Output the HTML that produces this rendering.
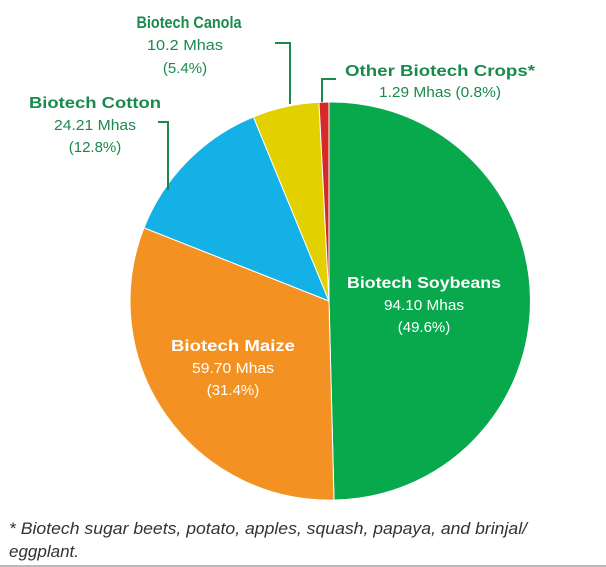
<!DOCTYPE html>
<html><head><style>
body{margin:0;background:#fff;width:606px;height:567px;overflow:hidden;font-family:"Liberation Sans",sans-serif}
</style></head><body>
<svg width="606" height="567" xmlns="http://www.w3.org/2000/svg" style="position:absolute;left:0;top:0">
<g stroke="#fff" stroke-width="1">
<path d="M329,301 L329,102 A199,199 0 0 1 334,500 Z" fill="#08a84c"/>
<path d="M329,301 L334,500 A199,199 0 0 1 144,227.8 Z" fill="#f39223"/>
<path d="M329,301 L144,227.8 A199,199 0 0 1 253.4,116.9 Z" fill="#14b1e7"/>
<path d="M329,301 L253.4,116.9 A199,199 0 0 1 319,102.3 Z" fill="#e3d000"/>
<path d="M329,301 L319,102.3 A199,199 0 0 1 329,102 Z" fill="#d42a2a"/>
</g>
<g fill="none" stroke="#1a8a4a" stroke-width="2">
<polyline points="275,43 290,43 290,104"/>
<polyline points="336,79 322,79 322,102"/>
<polyline points="158,122 168,122 168,190"/>
</g>
<g font-family="Liberation Sans,sans-serif" text-anchor="middle" fill="#1a8a4a">
<text x="189" y="28" font-size="17" font-weight="bold" textLength="105" lengthAdjust="spacingAndGlyphs">Biotech Canola</text>
<text x="185" y="50" font-size="15" textLength="76" lengthAdjust="spacingAndGlyphs">10.2 Mhas</text>
<text x="185" y="73" font-size="15">(5.4%)</text>
<text x="440" y="76" font-size="16" font-weight="bold" textLength="190" lengthAdjust="spacingAndGlyphs">Other Biotech Crops*</text>
<text x="440" y="97" font-size="15" textLength="122" lengthAdjust="spacingAndGlyphs">1.29 Mhas (0.8%)</text>
<text x="95" y="108" font-size="16" font-weight="bold" textLength="132" lengthAdjust="spacingAndGlyphs">Biotech Cotton</text>
<text x="95" y="130" font-size="15" textLength="82" lengthAdjust="spacingAndGlyphs">24.21 Mhas</text>
<text x="95" y="152" font-size="15">(12.8%)</text>
</g>
<g font-family="Liberation Sans,sans-serif" text-anchor="middle" fill="#fff">
<text x="424" y="288" font-size="16" font-weight="bold" textLength="154" lengthAdjust="spacingAndGlyphs">Biotech Soybeans</text>
<text x="424" y="310" font-size="15" textLength="80" lengthAdjust="spacingAndGlyphs">94.10 Mhas</text>
<text x="424" y="332" font-size="15">(49.6%)</text>
<text x="233" y="351" font-size="16" font-weight="bold" textLength="124" lengthAdjust="spacingAndGlyphs">Biotech Maize</text>
<text x="233" y="373" font-size="15" textLength="82" lengthAdjust="spacingAndGlyphs">59.70 Mhas</text>
<text x="233" y="395" font-size="15">(31.4%)</text>
</g>
<g font-family="Liberation Sans,sans-serif" font-style="italic" font-size="17" fill="#333">
<text x="9" y="534" textLength="518" lengthAdjust="spacingAndGlyphs">* Biotech sugar beets, potato, apples, squash, papaya, and brinjal/</text>
<text x="9" y="557" textLength="70" lengthAdjust="spacingAndGlyphs">eggplant.</text>
</g>
<rect x="0" y="565" width="606" height="2" fill="#bbb"/>
</svg>
</body></html>
